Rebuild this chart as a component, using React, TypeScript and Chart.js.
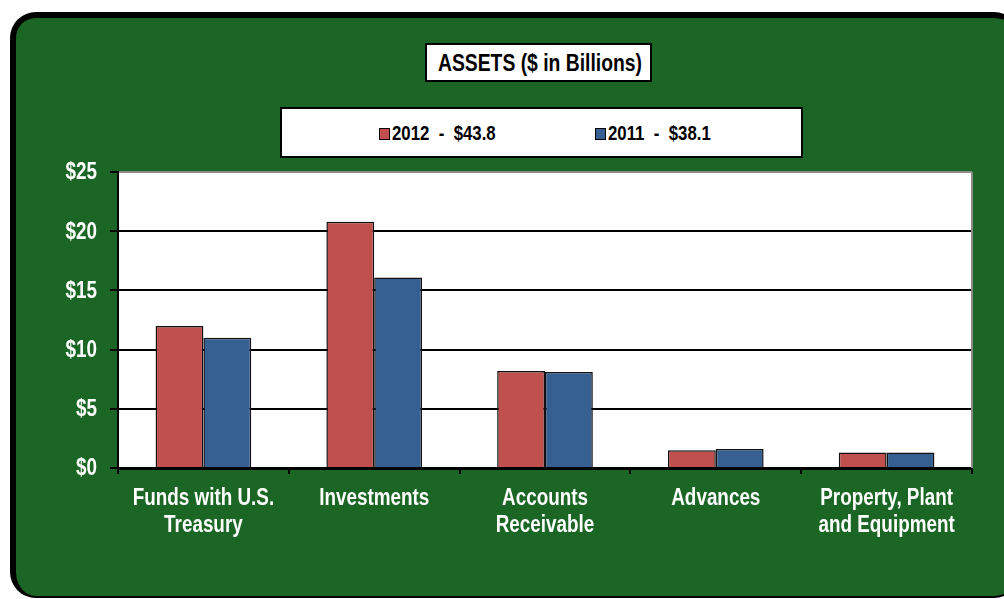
import React, { useEffect, useRef } from "react";
import { Chart, registerables } from "chart.js";

Chart.register(...registerables);

const categories: (string | string[])[] = [
  ["Funds with U.S.", "Treasury"],
  "Investments",
  ["Accounts", "Receivable"],
  "Advances",
  ["Property, Plant", "and Equipment"],
];
const seriesLabels = ["2012  -  $43.8", "2011  -  $38.1"];
const values2012 = [12.0, 20.8, 8.2, 1.5, 1.3];
const values2011 = [11.0, 16.1, 8.1, 1.6, 1.3];
const seriesColors = ["#C0504D", "#366092"];
const yMin = 0;
const yMax = 25;
const yStep = 5;
const titleText = "ASSETS ($ in Billions)";

const FONT = "'Liberation Sans', Arial, sans-serif";
const GREEN = "#1b6624";
const NARROW = 0.82;

export default function App() {
  const ref = useRef<HTMLCanvasElement | null>(null);

  useEffect(() => {
    if (!ref.current) return;
    const plotBg = {
      id: "plotBg",
      beforeDraw(chart: any) {
        const { ctx, chartArea } = chart;
        ctx.save();
        ctx.fillStyle = "#ffffff";
        ctx.fillRect(chartArea.left, chartArea.top, chartArea.right - chartArea.left, chartArea.bottom - chartArea.top);
        ctx.restore();
      },
      afterDraw(chart: any) {
        const { ctx, chartArea } = chart;
        ctx.save();
        ctx.strokeStyle = "#8a8a8a";
        ctx.lineWidth = 2;
        ctx.beginPath();
        ctx.moveTo(chartArea.right, chartArea.top);
        ctx.lineTo(chartArea.right, chartArea.bottom);
        ctx.stroke();

        // narrow (condensed) tick labels drawn from the scales' own ticks
        ctx.fillStyle = "#ffffff";
        ctx.font = `bold 23px ${FONT}`;
        ctx.textBaseline = "middle";
        const xs = chart.scales.x;
        xs.ticks.forEach((t: any, i: number) => {
          const px = xs.getPixelForTick(i);
          const lab = t.label;
          const lines = Array.isArray(lab) ? lab : [lab];
          lines.forEach((ln: string, j: number) => {
            ctx.save();
            ctx.translate(px, xs.top + 31 + j * 27);
            ctx.scale(NARROW, 1);
            ctx.textAlign = "center";
            ctx.fillText(ln, 0, 0);
            ctx.restore();
          });
        });
        const ys = chart.scales.y;
        ys.ticks.forEach((t: any, i: number) => {
          const py = ys.getPixelForTick(i);
          ctx.save();
          ctx.translate(ys.right - 21, py + 1);
          ctx.scale(NARROW, 1);
          ctx.textAlign = "right";
          ctx.fillText(t.label, 0, 0);
          ctx.restore();
        });
        ctx.restore();
      },
    };
    const chart = new Chart(ref.current, {
      type: "bar",
      data: {
        labels: categories,
        datasets: [
          {
            label: seriesLabels[0],
            data: values2012,
            backgroundColor: seriesColors[0],
            borderColor: "#111111",
            borderWidth: 1.5,
          },
          {
            label: seriesLabels[1],
            data: values2011,
            backgroundColor: seriesColors[1],
            borderColor: "#111111",
            borderWidth: 1.5,
          },
        ],
      },
      options: {
        responsive: false,
        animation: false,
        devicePixelRatio: 1,
        layout: { padding: { left: 0, top: 172, right: 32, bottom: 0 } },
        plugins: { legend: { display: false }, title: { display: false }, tooltip: { enabled: false } },
        datasets: { bar: { categoryPercentage: 0.56, barPercentage: 1.0 } },
        scales: {
          x: {
            grid: {
              drawOnChartArea: false,
              offset: true,
              tickLength: 6,
              color: "#000000",
              lineWidth: 2,
            },
            border: { color: "#000000", width: 3 },
            ticks: {
              color: "rgba(0,0,0,0)",
              font: { family: FONT, size: 23, weight: "bold", lineHeight: 1.2 },
              padding: 10,
              maxRotation: 0,
              autoSkip: false,
            },
            afterFit: (s: any) => {
              s.height = 131;
            },
          },
          y: {
            min: yMin,
            max: yMax,
            grid: {
              color: (c: any) => (c.tick && c.tick.value === yMax ? "#8a8a8a" : "#000000"),
              lineWidth: 2,
              tickLength: 8,
              tickColor: "#000000",
              tickWidth: 2,
            },
            border: { color: "#000000", width: 2 },
            ticks: {
              stepSize: yStep,
              color: "rgba(0,0,0,0)",
              font: { family: FONT, size: 23, weight: "bold" },
              padding: 12,
              callback: (v: any) => "$" + v,
            },
            afterFit: (s: any) => {
              s.width = 118;
            },
          },
        },
      },
      plugins: [plotBg],
    } as any);
    return () => chart.destroy();
  }, []);

  const narrowText: React.CSSProperties = {
    position: "absolute",
    whiteSpace: "pre",
    fontFamily: FONT,
    fontWeight: "bold",
    fontSize: 23,
    lineHeight: "26px",
    color: "#000",
    transform: `scaleX(${NARROW})`,
    transformOrigin: "left center",
  };

  return (
    <div style={{ position: "fixed", left: 0, top: 0, width: 1004, height: 599, overflow: "hidden", background: "#ffffff" }}>
      <div
        style={{
          position: "absolute",
          left: 10,
          top: 12,
          width: 1010,
          height: 586,
          boxSizing: "border-box",
          background: GREEN,
          borderLeft: "6px solid #000",
          borderTop: "6px solid #000",
          borderBottom: "2px solid #000",
          borderRight: "2px solid #000",
          borderRadius: 26,
        }}
      />
      <canvas ref={ref} width={1004} height={599} style={{ position: "absolute", left: 0, top: 0, width: 1004, height: 599 }} />
      <div
        style={{
          position: "absolute",
          left: 425,
          top: 43,
          width: 227,
          height: 39,
          boxSizing: "border-box",
          background: "#fff",
          border: "2px solid #000",
        }}
      >
        <div style={{ ...narrowText, left: 11, top: 5, transform: "scaleX(0.84)" }}>{titleText}</div>
      </div>
      <div
        style={{
          position: "absolute",
          left: 280,
          top: 107,
          width: 523,
          height: 51,
          boxSizing: "border-box",
          background: "#fff",
          border: "2px solid #000",
        }}
      >
        {seriesLabels.map((lab, i) => (
          <React.Fragment key={i}>
            <span
              style={{
                position: "absolute",
                left: i === 0 ? 97 : 313,
                top: 19,
                width: 11,
                height: 12,
                boxSizing: "border-box",
                background: seriesColors[i],
                border: "1px solid #000",
              }}
            />
            <div style={{ ...narrowText, fontSize: 21, transform: "scaleX(0.8)", left: i === 0 ? 110 : 326, top: 11 }}>{lab}</div>
          </React.Fragment>
        ))}
      </div>
    </div>
  );
}
